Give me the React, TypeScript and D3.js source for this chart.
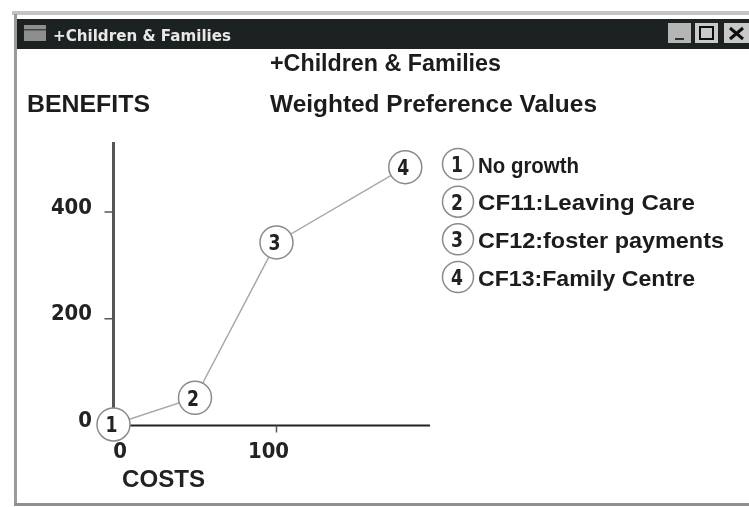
import React from "react";
import * as d3 from "d3";

const costs = [0, 50, 100, 179];
const benefits = [2, 52, 343, 484];
const pointIds = ["1", "2", "3", "4"];
const legendLabels = ["No growth", "CF11:Leaving Care", "CF12:foster payments", "CF13:Family Centre"];
const legendWidths = [101, 217, 246, 217];
const xTicks = [0, 100];
const yTicks = [0, 200, 400];

const W = 749, H = 507;
const x = d3.scaleLinear().domain([0, 100]).range([113.5, 276.5]);
const y = d3.scaleLinear().domain([0, 400]).range([425.5, 212]);
const line = d3.line<number>().x((d) => x(d)).y((_, i) => y(benefits[i]));
const legendY = d3.scaleLinear().domain([0, 3]).range([164, 277]);
const sans = "'Liberation Sans', Arial, sans-serif";
const mono = "'DejaVu Sans', sans-serif";

export default function App() {
  return (
    <svg width={W} height={H} style={{ position: "absolute", left: 0, top: 0, background: "#fff" }}>
      <defs>
        <filter id="soft" x="-5%" y="-5%" width="110%" height="110%">
          <feGaussianBlur stdDeviation="0.7" />
        </filter>
      </defs>
      <g filter="url(#soft)">
        <rect x={0} y={0} width={W} height={H} fill="#fff" />
        {/* window frame */}
        <rect x={12} y={11} width={737} height={4} fill="#c4c4c4" />
        <rect x={14} y={14} width={3} height={492} fill="#9a9a9a" />
        <rect x={14} y={503} width={735} height={3} fill="#8f8f8f" />
        <rect x={17} y={19} width={732} height={30} fill="#1f2020" />
        <rect x={24} y={25} width={22} height={16} fill="#8e8e8e" />
        <rect x={24} y={29} width={22} height={1.5} fill="#444" />
        <text x={53} y={41} fontFamily={mono} fontWeight={700} fontSize={15} fill="#e8e8e8" textLength={178} lengthAdjust="spacingAndGlyphs">+Children &amp; Families</text>
        {/* window buttons */}
        <rect x={668} y={23} width={23} height={20} fill="#b5b5b5" />
        <rect x={675} y={38} width={9} height={2} fill="#333" />
        <rect x={695} y={23} width={23} height={20} fill="#c9c9c9" />
        <rect x={700} y={27} width={13} height={12} fill="none" stroke="#111" strokeWidth={2} />
        <rect x={724} y={23} width={25} height={20} fill="#c9c9c9" />
        <path d="M730 28 L743 39 M743 28 L730 39" stroke="#111" strokeWidth={3} />

        {/* titles */}
        <text x={270} y={71} fontFamily={sans} fontWeight={700} fontSize={23} fill="#1a1a1a" textLength={231} lengthAdjust="spacingAndGlyphs">+Children &amp; Families</text>
        <text x={270} y={112} fontFamily={sans} fontWeight={700} fontSize={23} fill="#1a1a1a" textLength={327} lengthAdjust="spacingAndGlyphs">Weighted Preference Values</text>
        <text x={27} y={112} fontFamily={sans} fontSize={23} fontWeight={700} fill="#1a1a1a" textLength={123} lengthAdjust="spacingAndGlyphs">BENEFITS</text>

        {/* axes */}
        <line x1={x(0)} x2={x(0)} y1={y(0)} y2={142} stroke="#555" strokeWidth={3} />
        <line x1={x(0)} x2={430} y1={y(0)} y2={y(0)} stroke="#222" strokeWidth={2} />
        {yTicks.filter((t) => t > 0).map((t) => (
          <line key={t} x1={x(0) - 9} x2={x(0)} y1={y(t)} y2={y(t)} stroke="#555" strokeWidth={1.5} />
        ))}
        {xTicks.filter((t) => t > 0).map((t) => (
          <line key={t} x1={x(t)} x2={x(t)} y1={y(0)} y2={y(0) + 7} stroke="#555" strokeWidth={1.5} />
        ))}
        {yTicks.map((t) => (
          <text key={t} x={92} y={y(t) + 1.5} textAnchor="end" fontFamily={mono} fontWeight={700} fontSize={22} fill="#222" textLength={String(t).length * 13.7} lengthAdjust="spacingAndGlyphs">{t}</text>
        ))}
        {xTicks.map((t) => (
          <text key={t} x={x(t) + (t === 0 ? 6.5 : -8)} y={458} textAnchor="middle" fontFamily={mono} fontWeight={700} fontSize={22} fill="#222" textLength={String(t).length * 13.7} lengthAdjust="spacingAndGlyphs">{t}</text>
        ))}
        <text x={122} y={487} fontFamily={sans} fontWeight={700} fontSize={23} fill="#222" textLength={83} lengthAdjust="spacingAndGlyphs">COSTS</text>

        {/* series */}
        <path d={line(costs) ?? ""} fill="none" stroke="#a8a8a8" strokeWidth={1.5} />
        {costs.map((c, i) => (
          <g key={i}>
            <circle cx={x(c)} cy={y(benefits[i])} r={16.5} fill="#fff" stroke="#8a8a8a" strokeWidth={1.5} />
            <text x={x(c) - 2} y={y(benefits[i]) + 8} textAnchor="middle" fontFamily={mono} fontWeight={700} fontSize={22} fill="#222" textLength={12} lengthAdjust="spacingAndGlyphs">{pointIds[i]}</text>
          </g>
        ))}

        {/* legend */}
        {legendLabels.map((label, i) => (
          <g key={label}>
            <circle cx={458} cy={legendY(i)} r={15.5} fill="#fff" stroke="#8a8a8a" strokeWidth={1.5} />
            <text x={457} y={legendY(i) + 8} textAnchor="middle" fontFamily={mono} fontWeight={700} fontSize={22} fill="#222" textLength={12} lengthAdjust="spacingAndGlyphs">{pointIds[i]}</text>
            <text x={478} y={legendY(i) + 8.5} fontFamily={sans} fontWeight={700} fontSize={22} fill="#1a1a1a" textLength={legendWidths[i]} lengthAdjust="spacingAndGlyphs">{label}</text>
          </g>
        ))}
      </g>
    </svg>
  );
}
